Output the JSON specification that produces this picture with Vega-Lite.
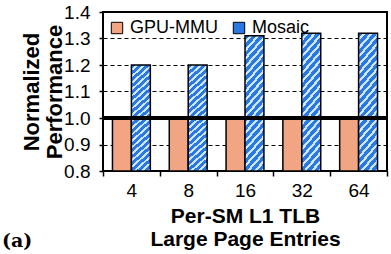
{
  "$schema": "https://vega.github.io/schema/vega-lite/v6.json",
  "autosize": "none",
  "width": 284,
  "height": 159,
  "padding": {"left": 103, "top": 12, "right": 4, "bottom": 83},
  "background": "white",
  "title": {"text": "(a)", "orient": "bottom", "anchor": "start", "frame": "group", "font": "DejaVu Serif", "fontWeight": "bold", "fontSize": 19, "color": "black", "baseline": "alphabetic", "dx": -101, "offset": -2},
  "config": {
    "view": {"stroke": "black", "strokeWidth": 2},
    "font": "Liberation Sans",
    "axis": {"domainColor": "black", "domainWidth": 2, "tickColor": "black", "tickWidth": 1.5, "labelColor": "black", "titleColor": "black", "labelFont": "Liberation Sans", "titleFont": "Liberation Sans"},
    "legend": {"labelFont": "Liberation Sans"}
  },
  "data": {"values": [
    {"entries": "4", "config": "GPU-MMU", "value": 1.0},
    {"entries": "4", "config": "Mosaic", "value": 1.2},
    {"entries": "8", "config": "GPU-MMU", "value": 1.0},
    {"entries": "8", "config": "Mosaic", "value": 1.2},
    {"entries": "16", "config": "GPU-MMU", "value": 1.0},
    {"entries": "16", "config": "Mosaic", "value": 1.31},
    {"entries": "32", "config": "GPU-MMU", "value": 1.0},
    {"entries": "32", "config": "Mosaic", "value": 1.32},
    {"entries": "64", "config": "GPU-MMU", "value": 1.0},
    {"entries": "64", "config": "Mosaic", "value": 1.32}
  ]},
  "layer": [
    {
      "mark": {"type": "bar", "stroke": "black", "strokeWidth": 1.5, "clip": true},
      "encoding": {
        "x": {"field": "entries", "type": "nominal", "sort": ["4", "8", "16", "32", "64"],
              "scale": {"paddingInner": 0, "paddingOuter": 0},
              "axis": {"title": ["Per-SM L1 TLB", "Large Page Entries"], "titleFontSize": 21, "titleFontWeight": "bold", "titleLineHeight": 23, "titlePadding": 5,
                       "labelFontSize": 19, "labelAngle": 0, "labelPadding": 5, "tickBand": "extent", "tickSize": 5, "domain": false}},
        "xOffset": {"field": "config", "type": "nominal", "scale": {"paddingInner": 0, "paddingOuter": 0.5}},
        "y": {"field": "value", "type": "quantitative",
              "scale": {"domain": [0.8, 1.4], "zero": false, "nice": false},
              "axis": {"title": ["Normalized", "Performance"], "titleFontSize": 22, "titleFontWeight": "bold", "titleLineHeight": 23, "titleX": -60, "titleY": 79.5,
                       "values": [0.8, 0.9, 1.0, 1.1, 1.2, 1.3, 1.4], "tickCount": 7, "format": ".1f", "labelFontSize": 19, "labelPadding": 9, "tickSize": 4, "labelOverlap": false, "labelBound": false,
                       "grid": true, "gridColor": "black", "gridDash": [4, 3], "gridWidth": 1.2, "domain": false}},
        "y2": {"datum": 0.8},
        "color": {
          "condition": {"test": "datum.config === 'Mosaic'", "value": {"gradient": "linear", "x1": 0, "y1": 0, "x2": 0.1785, "y2": 1.13, "stops": [
                    {"offset": 0, "color": "#2A78E4"}, {"offset": 0.0316, "color": "#2A78E4"}, {"offset": 0.0316, "color": "#CFE6FF"}, {"offset": 0.0526, "color": "#CFE6FF"},
                    {"offset": 0.0526, "color": "#2A78E4"}, {"offset": 0.0842, "color": "#2A78E4"}, {"offset": 0.0842, "color": "#CFE6FF"}, {"offset": 0.1053, "color": "#CFE6FF"},
                    {"offset": 0.1053, "color": "#2A78E4"}, {"offset": 0.1368, "color": "#2A78E4"}, {"offset": 0.1368, "color": "#CFE6FF"}, {"offset": 0.1579, "color": "#CFE6FF"},
                    {"offset": 0.1579, "color": "#2A78E4"}, {"offset": 0.1895, "color": "#2A78E4"}, {"offset": 0.1895, "color": "#CFE6FF"}, {"offset": 0.2105, "color": "#CFE6FF"},
                    {"offset": 0.2105, "color": "#2A78E4"}, {"offset": 0.2421, "color": "#2A78E4"}, {"offset": 0.2421, "color": "#CFE6FF"}, {"offset": 0.2632, "color": "#CFE6FF"},
                    {"offset": 0.2632, "color": "#2A78E4"}, {"offset": 0.2947, "color": "#2A78E4"}, {"offset": 0.2947, "color": "#CFE6FF"}, {"offset": 0.3158, "color": "#CFE6FF"},
                    {"offset": 0.3158, "color": "#2A78E4"}, {"offset": 0.3474, "color": "#2A78E4"}, {"offset": 0.3474, "color": "#CFE6FF"}, {"offset": 0.3684, "color": "#CFE6FF"},
                    {"offset": 0.3684, "color": "#2A78E4"}, {"offset": 0.4, "color": "#2A78E4"}, {"offset": 0.4, "color": "#CFE6FF"}, {"offset": 0.4211, "color": "#CFE6FF"},
                    {"offset": 0.4211, "color": "#2A78E4"}, {"offset": 0.4526, "color": "#2A78E4"}, {"offset": 0.4526, "color": "#CFE6FF"}, {"offset": 0.4737, "color": "#CFE6FF"},
                    {"offset": 0.4737, "color": "#2A78E4"}, {"offset": 0.5053, "color": "#2A78E4"}, {"offset": 0.5053, "color": "#CFE6FF"}, {"offset": 0.5263, "color": "#CFE6FF"},
                    {"offset": 0.5263, "color": "#2A78E4"}, {"offset": 0.5579, "color": "#2A78E4"}, {"offset": 0.5579, "color": "#CFE6FF"}, {"offset": 0.5789, "color": "#CFE6FF"},
                    {"offset": 0.5789, "color": "#2A78E4"}, {"offset": 0.6105, "color": "#2A78E4"}, {"offset": 0.6105, "color": "#CFE6FF"}, {"offset": 0.6316, "color": "#CFE6FF"},
                    {"offset": 0.6316, "color": "#2A78E4"}, {"offset": 0.6632, "color": "#2A78E4"}, {"offset": 0.6632, "color": "#CFE6FF"}, {"offset": 0.6842, "color": "#CFE6FF"},
                    {"offset": 0.6842, "color": "#2A78E4"}, {"offset": 0.7158, "color": "#2A78E4"}, {"offset": 0.7158, "color": "#CFE6FF"}, {"offset": 0.7368, "color": "#CFE6FF"},
                    {"offset": 0.7368, "color": "#2A78E4"}, {"offset": 0.7684, "color": "#2A78E4"}, {"offset": 0.7684, "color": "#CFE6FF"}, {"offset": 0.7895, "color": "#CFE6FF"},
                    {"offset": 0.7895, "color": "#2A78E4"}, {"offset": 0.8211, "color": "#2A78E4"}, {"offset": 0.8211, "color": "#CFE6FF"}, {"offset": 0.8421, "color": "#CFE6FF"},
                    {"offset": 0.8421, "color": "#2A78E4"}, {"offset": 0.8737, "color": "#2A78E4"}, {"offset": 0.8737, "color": "#CFE6FF"}, {"offset": 0.8947, "color": "#CFE6FF"},
                    {"offset": 0.8947, "color": "#2A78E4"}, {"offset": 0.9263, "color": "#2A78E4"}, {"offset": 0.9263, "color": "#CFE6FF"}, {"offset": 0.9474, "color": "#CFE6FF"},
                    {"offset": 0.9474, "color": "#2A78E4"}, {"offset": 0.9789, "color": "#2A78E4"}, {"offset": 0.9789, "color": "#CFE6FF"}, {"offset": 1, "color": "#CFE6FF"}
                  ]}},
          "field": "config", "type": "nominal",
          "scale": {"domain": ["GPU-MMU", "Mosaic"], "range": ["#F2A582", "#2A78E4"]},
          "legend": {"title": null, "orient": "none", "legendX": 5, "legendY": 7, "direction": "horizontal", "columns": 2, "padding": 0,
                     "symbolType": "square", "symbolSize": 130, "symbolStrokeColor": "black", "symbolStrokeWidth": 1,
                     "labelFont": "Liberation Sans", "labelFontSize": 18, "labelColor": "black", "labelOffset": 4, "columnPadding": 12,
                     "encode": {"symbols": {"update": {"stroke": {"value": "black"}, "strokeWidth": {"value": 1}, "fill": {"signal": "datum.label === 'Mosaic' ? {gradient: 'linear', x1: 0, y1: 0, x2: 1, y2: 1, stops: [{offset: 0, color: '#2A78E4'}, {offset: 0.2, color: '#2A78E4'}, {offset: 0.2, color: '#CFE6FF'}, {offset: 0.33, color: '#CFE6FF'}, {offset: 0.33, color: '#2A78E4'}, {offset: 0.53, color: '#2A78E4'}, {offset: 0.53, color: '#CFE6FF'}, {offset: 0.67, color: '#CFE6FF'}, {offset: 0.67, color: '#2A78E4'}, {offset: 0.87, color: '#2A78E4'}, {offset: 0.87, color: '#CFE6FF'}, {offset: 1, color: '#CFE6FF'}]} : '#F2A582'"}}}}}
        }
      }
    },
    {
      "mark": {"type": "rule", "color": "black", "strokeWidth": 3},
      "encoding": {"y": {"datum": 1.0, "type": "quantitative",
                         "axis": {"title": ["Normalized", "Performance"], "titleFontSize": 22, "titleFontWeight": "bold", "titleLineHeight": 23, "titleX": -60, "titleY": 79.5,
                                  "values": [0.8, 0.9, 1.0, 1.1, 1.2, 1.3, 1.4], "tickCount": 7, "format": ".1f", "labelFontSize": 19, "labelPadding": 9, "tickSize": 4, "labelOverlap": false, "labelBound": false,
                                  "grid": true, "gridColor": "black", "gridDash": [4, 3], "gridWidth": 1.2, "domain": false}}}
    }
  ]
}
